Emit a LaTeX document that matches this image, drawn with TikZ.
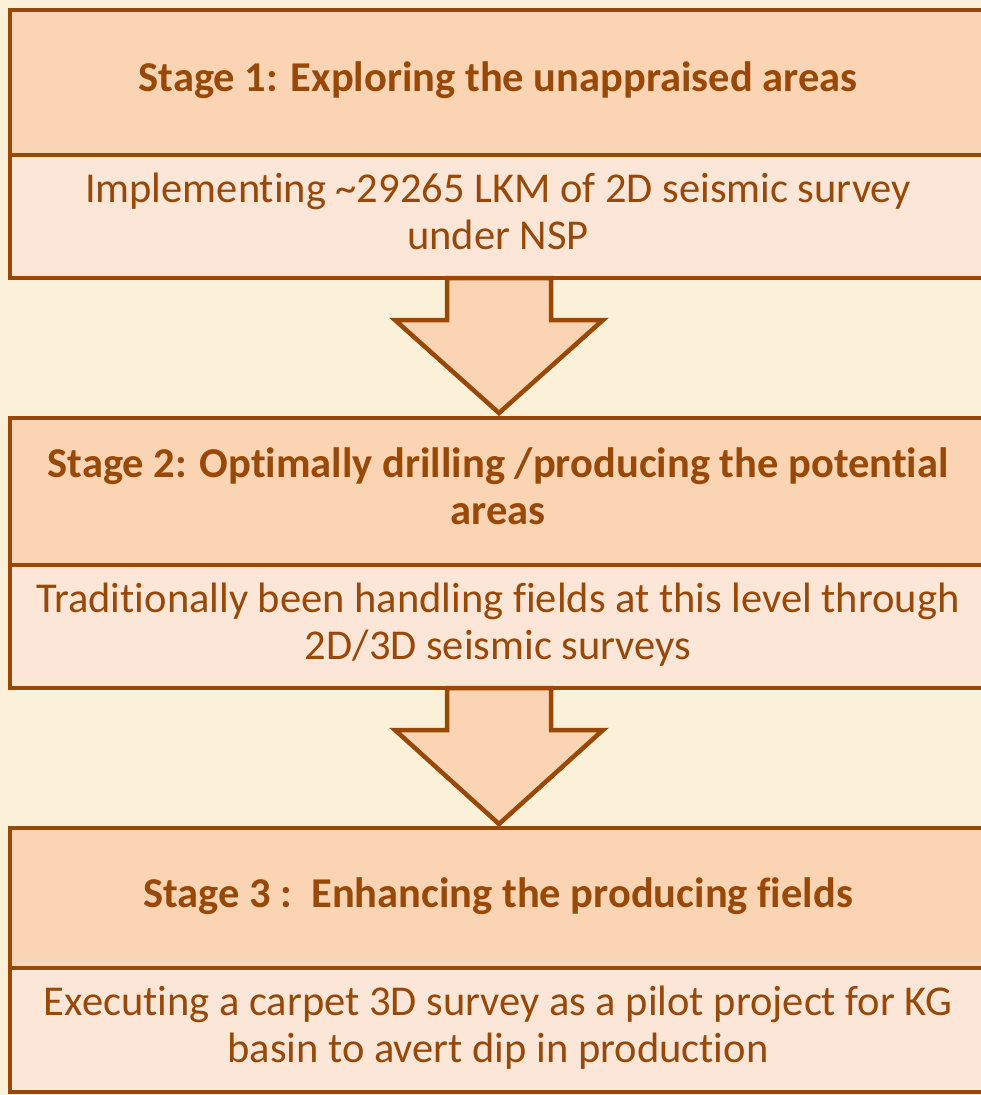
\documentclass[tikz,border=0pt]{standalone}
\usepackage{fontspec}
\setmainfont{Carlito}[Ligatures={NoCommon}]
\usetikzlibrary{positioning,calc}

\definecolor{stagebrown}{HTML}{984807}
\definecolor{headfill}{HTML}{FBD4B4}
\definecolor{bodyfill}{HTML}{FCE6D8}
\definecolor{parchment}{HTML}{FBF1D8}

% centred lines of one box, set a little left of the box centre
\newcommand{\stagelines}[1]{\begin{tabular}{@{}c@{}}#1\end{tabular}\hspace*{34pt}}

\begin{document}
\begin{tikzpicture}[x=1pt, y=-1pt, node distance=140pt]
    % Define styles
    \tikzstyle{stagebox}=[rectangle, text=stagebrown, minimum width=1010pt, text width=1010pt, align=flush center, inner xsep=0pt, outer sep=0pt]
    \tikzstyle{stagehead}=[stagebox, fill=headfill, font=\fontsize{42.5}{47}\selectfont\bfseries]
    \tikzstyle{stagebody}=[stagebox, fill=bodyfill, font=\fontsize{42.5}{47}\selectfont]
    \tikzstyle{stageline}=[draw=stagebrown, line width=4.5pt, line join=miter]
    \tikzstyle{stagearrow}=[stageline, fill=headfill]

    % Page and background
    \useasboundingbox (0,0) rectangle (981,1095);
    \clip (0,0) rectangle (981,1095);
    \fill [parchment] (0,0) rectangle (981,1095);

    % Stage 1
    \node [stagehead, minimum height=145pt] (head1) at (515,82.5) {\stagelines{Stage 1: Exploring the unappraised areas}};
    \node [stagebody, minimum height=123pt, below=0pt of head1] (body1) {\stagelines{Implementing \textasciitilde29265 LKM of 2D seismic survey\\under NSP}};

    % Stage 2
    \node [stagehead, minimum height=147pt, below=of body1] (head2) {\stagelines{Stage 2: Optimally drilling /producing the potential\\areas}};
    \node [stagebody, minimum height=123pt, below=0pt of head2] (body2) {\stagelines{Traditionally been handling fields at this level through\\2D/3D seismic surveys}};

    % Stage 3
    \node [stagehead, minimum height=140pt, below=of body2] (head3) {\stagelines{Stage 3 :\ \ Enhancing the producing fields}};
    \node [stagebody, minimum height=124pt, below=0pt of head3] (body3) {\stagelines{Executing a carpet 3D survey as a pilot project for KG\\basin to avert dip in production}};

    % Box outlines (the right side runs off the page)
    \foreach \stagenode in {head1,body1,head2,body2,head3,body3}
        \draw [stageline] (\stagenode.north east) -- (\stagenode.north west) -- (\stagenode.south west) -- (\stagenode.south east);

    % Block arrows
    \draw [stagearrow] ($(body1.south)+(-68,0)$) -- ++(0,42) -- ++(-52,0) -- ($(head2.north)+(-16,-5)$) -- ($(body1.south)+(88,42)$) -- ++(-52,0) -- ($(body1.south)+(36,0)$) -- cycle;
    \draw [stagearrow] ($(body2.south)+(-68,0)$) -- ++(0,42) -- ++(-52,0) -- ($(head3.north)+(-16,-4)$) -- ($(body2.south)+(88,42)$) -- ++(-52,0) -- ($(body2.south)+(36,0)$) -- cycle;
\end{tikzpicture}
\end{document}
